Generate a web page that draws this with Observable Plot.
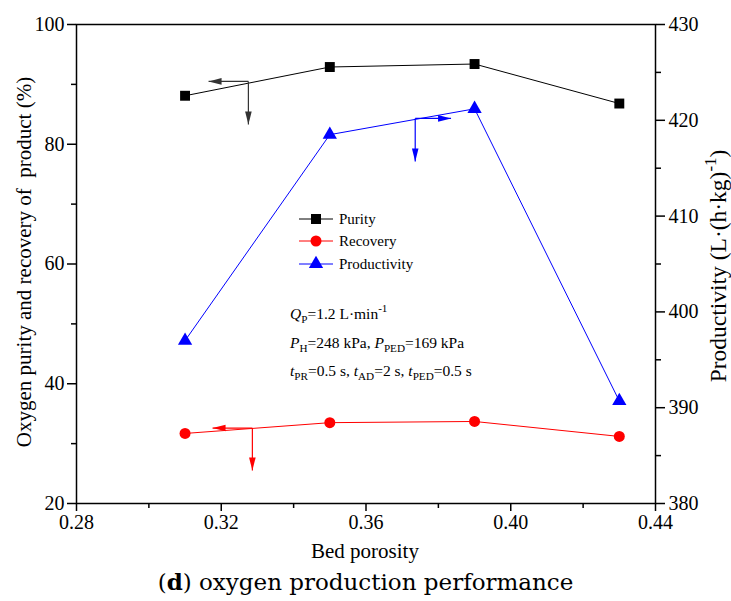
<!DOCTYPE html>
<html><head><meta charset="utf-8">
<script src="https://cdn.jsdelivr.net/npm/d3@7"></script>
<script src="https://cdn.jsdelivr.net/npm/@observablehq/plot@0.6"></script>
<style>
body{margin:0;background:#fff;}
#wrap{position:relative;width:731px;height:601px;overflow:hidden;}
#cap{position:absolute;left:0;top:565px;width:731px;text-align:center;font-family:"DejaVu Serif";font-size:23px;line-height:34px;color:#000;}
svg text{font-family:"Liberation Serif","Times New Roman",Tinos,serif;}
</style></head><body>
<div id="wrap"><div id="chart"></div><div id="cap">(<b>d</b>) oxygen production performance</div></div>
<script>
const porosity = [0.31, 0.35, 0.39, 0.43];
const purity = [88.1, 92.9, 93.4, 86.8];
const recovery = [31.7, 33.5, 33.7, 31.2];
const productivity = [397.0, 418.5, 421.2, 390.7];
const xTicks = [0.28, 0.32, 0.36, 0.40, 0.44];
const xMinor = [0.30, 0.34, 0.38, 0.42];
const leftTicks = [20, 40, 60, 80, 100];
const leftMinor = [30, 50, 70, 90];
const rightTicks = [380, 390, 400, 410, 420, 430];
const rightMinor = [385, 395, 405, 415, 425];
const seriesNames = ["Purity", "Recovery", "Productivity"];
const seriesColors = ["#000000", "#ff0000", "#0000ff"];
// annotation arrows (series units: Purity/Recovery on left axis, Productivity on right axis)
const arrowSeries = ["Purity", "Purity", "Productivity", "Productivity", "Recovery", "Recovery"];
const arrowX1 = [0.3275, 0.3275, 0.3736, 0.3736, 0.3286, 0.3286];
const arrowY1 = [90.5, 90.5, 420.2, 420.2, 32.6, 32.6];
const arrowX2 = [0.3165, 0.3275, 0.3835, 0.3736, 0.3176, 0.3286];
const arrowY2 = [90.5, 83.3, 420.2, 415.7, 32.6, 25.5];

const toLeft = p => 20 + (p - 380) * 1.6;
const fromLeft = v => 380 + (v - 20) / 1.6;
const colorOf = s => seriesColors[seriesNames.indexOf(s)];

const rows = [];
porosity.forEach((x, i) => {
  rows.push({s: "Purity", x, y: purity[i]});
  rows.push({s: "Recovery", x, y: recovery[i]});
  rows.push({s: "Productivity", x, y: toLeft(productivity[i])});
});
const arrows = arrowSeries.map((s, i) => {
  const conv = s === "Productivity" ? toLeft : (v => v);
  const y1 = conv(arrowY1[i]), y2 = conv(arrowY2[i]);
  let rot = 0;
  if (arrowX2[i] < arrowX1[i]) rot = 90; else if (arrowX2[i] > arrowX1[i]) rot = -90;
  return {s, x1: arrowX1[i], y1, x2: arrowX2[i], y2, rot, c: s === "Purity" ? "#333" : colorOf(s)};
});
const head = {draw(ctx) { ctx.moveTo(0, 0); ctx.lineTo(-3.3, -13); ctx.lineTo(3.3, -13); ctx.closePath(); }};

const font = '"Liberation Serif", "Times New Roman", Tinos, serif';
const marks = [];
seriesNames.forEach((s, k) => {
  const d = rows.filter(r => r.s === s);
  marks.push(Plot.line(d, {x: "x", y: "y", stroke: seriesColors[k], strokeWidth: 1}));
});
marks.push(Plot.dot(rows.filter(r => r.s === "Purity"), {x: "x", y: "y", symbol: "square", r: 5.6, fill: "#000"}));
marks.push(Plot.dot(rows.filter(r => r.s === "Recovery"), {x: "x", y: "y", symbol: "circle", r: 5.5, fill: "#ff0000"}));
marks.push(Plot.dot(rows.filter(r => r.s === "Productivity"), {x: "x", y: "y", symbol: "triangle", r: 5.3, fill: "#0000ff"}));
marks.push(Plot.link(arrows, {x1: "x1", y1: "y1", x2: "x2", y2: "y2", stroke: "c", strokeWidth: 1.2}));
marks.push(Plot.dot(arrows, {x: "x2", y: "y2", symbol: head, rotate: "rot", fill: "c", stroke: "none"}));

const axFont = {fontSize: 20, fill: "#000"};
marks.push(Plot.axisX({ticks: xTicks, tickSize: 8, tickPadding: 3, strokeWidth: 1.5, tickFormat: d3.format(".2f"), label: null, ...axFont}));
marks.push(Plot.axisX({ticks: xMinor, tickSize: 5, strokeWidth: 1.5, tickFormat: () => "", label: null}));
marks.push(Plot.axisY({ticks: leftTicks, tickSize: 9, tickPadding: 3, strokeWidth: 1.5, label: null, ...axFont}));
marks.push(Plot.axisY({ticks: leftMinor, tickSize: 5, strokeWidth: 1.5, tickFormat: () => "", label: null}));
marks.push(Plot.axisY({anchor: "right", ticks: rightTicks.map(toLeft), tickFormat: v => String(Math.round(fromLeft(v))), tickSize: 9, tickPadding: 4, strokeWidth: 1.5, label: null, ...axFont}));
marks.push(Plot.axisY({anchor: "right", ticks: rightMinor.map(toLeft), tickSize: 5, strokeWidth: 1.5, tickFormat: () => "", label: null}));
marks.push(Plot.frame({stroke: "#000", strokeWidth: 1.5}));

const chart = Plot.plot({
  width: 731, height: 565,
  marginLeft: 76, marginRight: 76, marginTop: 24, marginBottom: 62,
  x: {domain: [0.28, 0.44]},
  y: {domain: [20, 100]},
  style: {fontFamily: font, fontSize: "20px", color: "#000", background: "#fff", overflow: "visible"},
  marks
});
document.getElementById("chart").appendChild(chart);

// titles, legend, annotation
const svg = d3.select(chart);
function rich(sel, parts, size) {
  parts.forEach(p => {
    const sp = sel.append("tspan").text(p.t);
    if (p.i) sp.attr("font-style", "italic");
    if (p.sub) sp.attr("font-size", size * 0.72).attr("dy", size * 0.28);
    if (p.sup) sp.attr("font-size", size * 0.72).attr("dy", -size * 0.42);
    if (p.back) sp.attr("dy", p.back);
  });
}
const g = svg.append("g").attr("fill", "#000");
g.append("text").attr("transform", "translate(24,262) rotate(-90)").attr("text-anchor", "middle").attr("dy", "0.35em").attr("font-size", 21)
  .text("Oxygen purity and recovery of\u00a0 product (%)");
const rt = g.append("text").attr("transform", "translate(718,266) rotate(-90)").attr("text-anchor", "middle").attr("dy", "0.35em").attr("font-size", 23.5);
rich(rt, [{t: "Productivity (L\u00b7(h\u00b7kg)"}, {t: "-1", sup: true}, {t: ")", back: 23.5 * 0.42}], 23.5);
g.append("text").attr("x", 365).attr("y", 551).attr("text-anchor", "middle").attr("dy", "0.35em").attr("font-size", 21).text("Bed porosity");

// legend
const legY = [219, 241, 264];
const syms = [d3.symbolSquare, d3.symbolCircle, d3.symbolTriangle];
const symSizes = [100, 95, 88];
seriesNames.forEach((s, k) => {
  const lg = g.append("g").attr("transform", `translate(0,${legY[k]})`);
  lg.append("line").attr("x1", 299).attr("x2", 333).attr("stroke", seriesColors[k]).attr("stroke-width", 1);
  lg.append("path").attr("d", d3.symbol(syms[k], symSizes[k])()).attr("transform", "translate(316,0)").attr("fill", seriesColors[k]);
  lg.append("text").attr("x", 339).attr("dy", "0.35em").attr("text-anchor", "start").attr("font-size", 15).text(s);
});

// condition annotation
const fs = 15.5;
const a1 = g.append("text").attr("x", 290).attr("y", 319).attr("text-anchor", "start").attr("font-size", fs);
rich(a1, [{t: "Q", i: true}, {t: "P", sub: true}, {t: "=1.2 L\u00b7min", back: -fs * 0.28}, {t: "-1", sup: true}], fs);
const a2 = g.append("text").attr("x", 290).attr("y", 348).attr("text-anchor", "start").attr("font-size", fs);
rich(a2, [{t: "P", i: true}, {t: "H", sub: true}, {t: "=248 kPa, ", back: -fs * 0.28}, {t: "P", i: true}, {t: "PED", sub: true}, {t: "=169 kPa", back: -fs * 0.28}], fs);
const a3 = g.append("text").attr("x", 290).attr("y", 376).attr("text-anchor", "start").attr("font-size", fs);
rich(a3, [{t: "t", i: true}, {t: "PR", sub: true}, {t: "=0.5 s, ", back: -fs * 0.28}, {t: "t", i: true}, {t: "AD", sub: true}, {t: "=2 s, ", back: -fs * 0.28}, {t: "t", i: true}, {t: "PED", sub: true}, {t: "=0.5 s", back: -fs * 0.28}], fs);
</script>
</body></html>
